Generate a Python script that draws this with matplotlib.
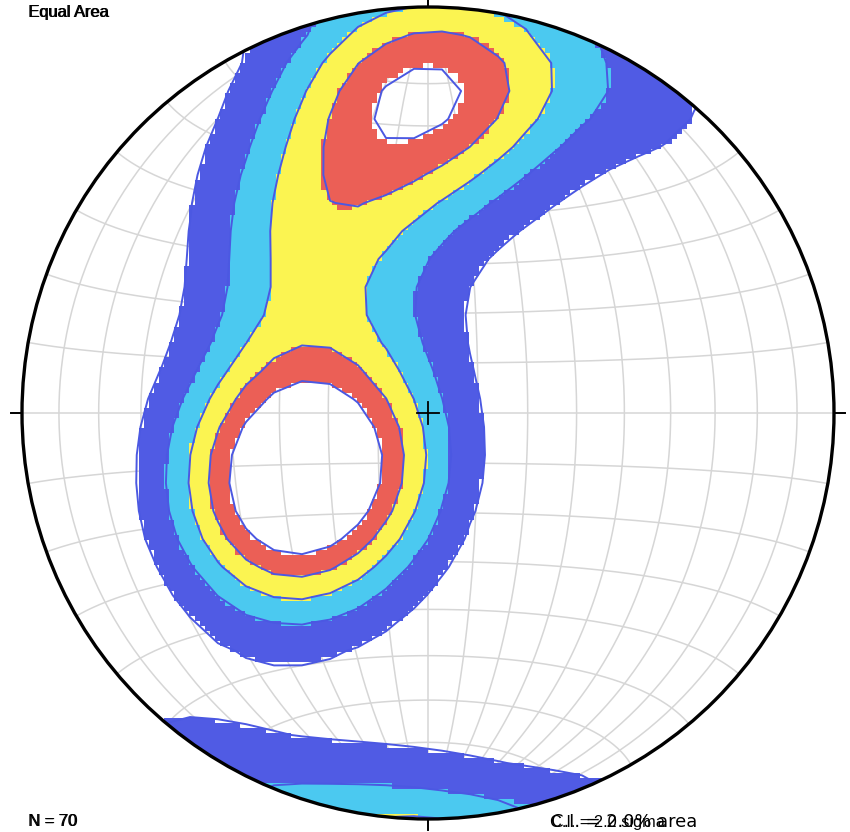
import numpy as np
import matplotlib
matplotlib.use("Agg")
import matplotlib.pyplot as plt
from matplotlib.colors import ListedColormap, BoundaryNorm
from matplotlib.patches import Circle

# ---------------- data: poles (trend, plunge in degrees) with multiplicity ----
pole_trend = [247, 265, 259, 279, 242, 224, 225, 255, 226, 232, 244, 266, 208, 260, 290, 222, 209, 281, 206,
              358, 351, 7, 359, 354, 6, 345, 346, 10, 345, 336, 16.5, 0.5, 5, 353, 20, 354, 2,
              0, 346, 15, 27, 38, 190, 180, 215,
              330, 311, 332, 310, 321, 323, 325, 346]
pole_plunge = [63, 57.5, 72, 64, 52, 64, 53, 49, 74, 43, 40, 44, 56, 82, 58, 41, 70, 76, 77,
               25, 21, 22, 14.5, 34, 34, 28.5, 42, 13, 16, 35, 37.6, 44, 8.6, 8, 19, 28, 26,
               4, 3, 5, 8.5, 9, 9, 10, 6,
               52, 55, 80, 45, 45, 35, 25, 67]
pole_count = [4, 2, 2, 2, 2, 2, 3, 2, 2, 2, 1, 1, 1, 1, 1, 1, 1, 1, 1,
              2, 1, 2, 1, 1, 1, 1, 2, 1, 1, 1, 1, 1, 1, 1, 1, 1, 1,
              1, 1, 1, 1, 1, 1, 1, 1,
              3, 1, 1, 1, 1, 1, 1, 1]

contour_levels = [2, 4, 6, 8, 10]           # sigma
fill_colors = ["#505be4", "#4bc9f0", "#fbf451", "#eb5f56"]
line_color = "#4b58e2"
kamb_sigma = 3.0
grid_step = 10                              # degrees

# ---------------- helpers ---------------------------------------------------
def pole_vectors(trend, plunge):
    t = np.radians(np.asarray(trend, float))
    p = np.radians(np.asarray(plunge, float))
    return np.stack([np.cos(p) * np.cos(t), np.cos(p) * np.sin(t), np.sin(p)], axis=-1)


def project(n, e, d):
    s = np.sqrt(1.0 + np.abs(d))
    sign = np.where(d < 0, -1.0, 1.0)
    return sign * e / s, sign * n / s


def unproject(x, y):
    r2 = x ** 2 + y ** 2
    r = np.sqrt(r2)
    scale = np.where(r > 1, 1.0 / np.maximum(r, 1e-12), 1.0)
    x = x * scale
    y = y * scale
    r2 = np.minimum(r2, 1.0)
    d = 1.0 - r2
    s = np.sqrt(1.0 + d)
    return np.stack([y * s, x * s, d], axis=-1)


def kamb_density(x, y):
    pts = pole_vectors(pole_trend, pole_plunge)
    w = np.asarray(pole_count, float)
    n = w.sum()
    f = 2.0 * (1.0 + n / kamb_sigma ** 2)
    units = np.sqrt(n * (f / 2.0 - 1.0) / f ** 2)
    g = unproject(x, y)
    cosd = np.abs(g @ pts.T)
    dens = (np.exp(f * (cosd - 1.0)) * w).sum(-1) / units
    return np.clip(dens, 0, None)


# ---------------- figure ------------------------------------------------------
W, H = 850, 832
fig = plt.figure(figsize=(W / 100, H / 100), dpi=100)
cx, cy, R = 428, 413, 406
ax = fig.add_axes([(cx - R) / W, (H - cy - R) / H, 2 * R / W, 2 * R / H])
ax.set_xlim(-1, 1)
ax.set_ylim(-1, 1)
ax.set_aspect("equal")
ax.axis("off")

clip = Circle((0, 0), 1, transform=ax.transData)

# grid (equal-area net, N-S polar axis)
gcol = "#d6d6d6"
s = np.linspace(0, np.pi, 200)
for dip in range(grid_step, 90, grid_step):
    dr = np.radians(dip)
    for sgn in (1, -1):
        n = np.cos(s)
        e = sgn * np.sin(s) * np.cos(dr)
        d = np.sin(s) * np.sin(dr)
        gx, gy = project(n, e, d)
        ax.plot(gx, gy, color=gcol, lw=1.1, zorder=1)
ax.plot([0, 0], [-1, 1], color=gcol, lw=1.1, zorder=1)
for a in range(grid_step, 180, grid_step):
    ar = np.radians(a)
    n = np.full_like(s, np.cos(ar))
    e = np.sin(ar) * np.cos(s)
    d = np.sin(ar) * np.sin(s)
    gx, gy = project(n, e, d)
    ax.plot(gx, gy, color=gcol, lw=1.1, zorder=1)

# filled density (raster)
nc = 160
edges = np.linspace(-1, 1, nc + 1)
cen = 0.5 * (edges[1:] + edges[:-1])
XC, YC = np.meshgrid(cen, cen)
Z = kamb_density(XC, YC)
Zm = np.ma.masked_where((Z < contour_levels[0]) | (Z >= contour_levels[-1]), Z)
cmap = ListedColormap(fill_colors)
norm = BoundaryNorm(contour_levels, cmap.N)
mesh = ax.pcolormesh(edges, edges, Zm, cmap=cmap, norm=norm, shading="flat",
                     antialiased=False, edgecolors="none", zorder=2)
mesh.set_clip_path(clip)

# contour lines (coarser grid)
nl = 30
lg = np.linspace(-1, 1, nl)
XL, YL = np.meshgrid(lg, lg)
ZL = kamb_density(XL, YL)
cs = ax.contour(XL, YL, ZL, levels=contour_levels, colors=line_color,
                linewidths=1.4, zorder=3)
cs.set_clip_path(clip)

# primitive circle, ticks and centre cross
ax.add_patch(Circle((0, 0), 1, fill=False, lw=2.4, color="black", zorder=5, clip_on=False))
tk = 0.026
for (x0, y0, x1, y1) in [(1, 0, 1 + tk, 0), (-1, 0, -1 - tk, 0), (0, 1, 0, 1 + tk), (0, -1, 0, -1 - tk)]:
    ax.plot([x0, x1], [y0, y1], color="black", lw=1.4, zorder=5, clip_on=False)
cc = 0.028
ax.plot([-cc, cc], [0, 0], color="black", lw=1.3, zorder=6)
ax.plot([0, 0], [-cc, cc], color="black", lw=1.3, zorder=6)

# texts
fs = 11.8
font = "Liberation Sans"
for dx in (0, 0.6 / W):
    fig.text(28 / W + dx, 1 - 12 / H, "Equal Area", fontsize=fs, family=font, va="center", ha="left")
    fig.text(28 / W + dx, 1 - 822 / H, "N = 70", fontsize=fs, family=font, va="center", ha="left")
fig.text(550 / W, 1 - 822 / H, "C.I. = 2.0 sigma", fontsize=fs, family=font, va="center", ha="left")
fig.text(551 / W, 1 - 822 / H, "C.I. = 2.0% area", fontsize=12.9, family="DejaVu Sans", va="center", ha="left")

fig.savefig("out.png", dpi=100)
